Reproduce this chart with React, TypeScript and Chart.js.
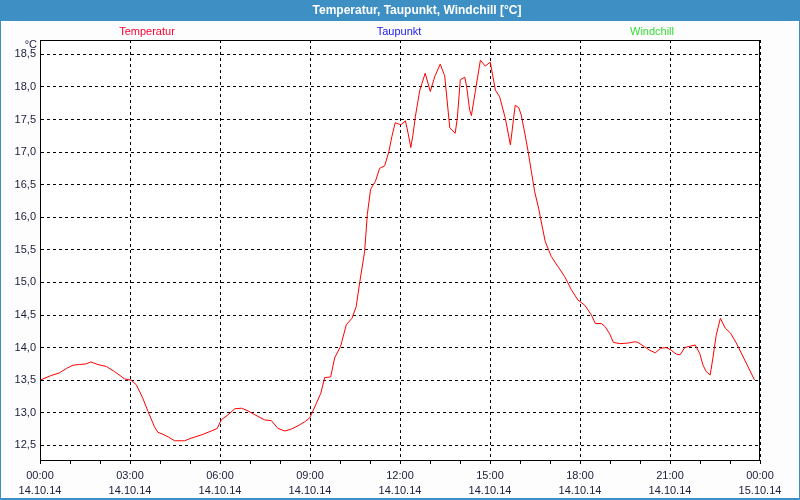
import React, { useEffect, useRef } from "react";
import { Chart, registerables } from "chart.js";

Chart.register(...registerables);

const hours = [
  0, 0.36, 0.64, 0.88, 1.1, 1.32, 1.54, 1.69, 1.93, 2.21, 2.49, 2.82, 3.04, 3.21, 3.43, 3.6, 3.82, 3.93, 4.1, 4.27,
  4.49, 4.82, 5.04, 5.38, 5.71, 5.91, 6.04, 6.27, 6.49, 6.71, 6.93, 7.16, 7.49, 7.71, 7.93, 8.16, 8.38, 8.6, 8.82,
  8.99, 9.16, 9.36, 9.49, 9.69, 9.82, 10.02, 10.21, 10.4, 10.54, 10.66, 10.82, 10.91, 11.02, 11.18, 11.32, 11.49,
  11.63, 11.73, 11.84, 11.96, 12.04, 12.18, 12.27, 12.36, 12.43, 12.51, 12.66, 12.84, 13.01, 13.16, 13.34, 13.49,
  13.66, 13.84, 13.91, 14.01, 14.16, 14.23, 14.32, 14.38, 14.51, 14.68, 14.84, 15.01, 15.18, 15.32, 15.51, 15.68,
  15.84, 15.96, 16.04, 16.16, 16.27, 16.38, 16.49, 16.62, 16.73, 16.84, 17.04, 17.27, 17.49, 17.71, 17.93, 18.16,
  18.38, 18.51, 18.71, 18.84, 18.99, 19.11, 19.33, 19.61, 19.83, 19.93, 20.16, 20.32, 20.51, 20.69, 20.88, 21.04,
  21.21, 21.34, 21.49, 21.66, 21.84, 21.99, 22.1, 22.21, 22.34, 22.43, 22.54, 22.68, 22.84, 23.02, 23.21, 23.49,
  23.82,
];

const temperatur = [
  13.5, 13.57, 13.61, 13.68, 13.73, 13.74, 13.75, 13.78, 13.74, 13.71, 13.63, 13.52, 13.5, 13.43, 13.22, 13.02, 12.78,
  12.7, 12.67, 12.63, 12.57, 12.57, 12.61, 12.66, 12.72, 12.76, 12.89, 12.97, 13.06, 13.07, 13.03, 12.97, 12.89, 12.88,
  12.76, 12.72, 12.75, 12.8, 12.86, 12.92, 13.09, 13.3, 13.54, 13.55, 13.84, 14.02, 14.35, 14.45, 14.63, 15.01, 15.47,
  16.04, 16.43, 16.55, 16.75, 16.79, 17.01, 17.24, 17.45, 17.43, 17.42, 17.48, 17.29, 17.07, 17.26, 17.54, 17.95,
  18.21, 17.93, 18.16, 18.35, 18.17, 17.37, 17.29, 17.52, 18.11, 18.15, 17.98, 17.65, 17.56, 17.93, 18.41, 18.32,
  18.38, 17.95, 17.85, 17.52, 17.11, 17.72, 17.68, 17.57, 17.29, 17.01, 16.7, 16.39, 16.14, 15.88, 15.63, 15.4, 15.24,
  15.09, 14.89, 14.73, 14.65, 14.5, 14.37, 14.37, 14.32, 14.21, 14.08, 14.06, 14.07, 14.09, 14.08, 14.01, 13.96,
  13.92, 13.99, 14.0, 13.96, 13.9, 13.89, 14.0, 14.02, 14.04, 13.91, 13.73, 13.63, 13.58, 13.84, 14.19, 14.45, 14.3,
  14.22, 14.07, 13.81, 13.5,
];

const seriesNames = ["Temperatur", "Taupunkt", "Windchill"];
const seriesColors = ["#ff0033", "#2020f0", "#33dd33"];
const titleText = "Temperatur, Taupunkt, Windchill [°C]";
const unitText = "°C";
const startDate = "14.10.14";
const endDate = "15.10.14";

const FONT = "'Liberation Sans', Arial, sans-serif";

export default function App() {
  const ref = useRef<HTMLCanvasElement | null>(null);

  useEffect(() => {
    document.body.style.margin = "0";
    const canvas = ref.current;
    if (!canvas) return;

    const framePlugin = {
      id: "frame",
      beforeDraw(chart: any) {
        const ctx = chart.ctx;
        ctx.save();
        ctx.fillStyle = "#fcfdfc";
        ctx.fillRect(0, 0, 800, 500);
        const a = chart.chartArea;
        ctx.fillStyle = "#ffffff";
        ctx.fillRect(a.left, a.top, a.right - a.left, a.bottom - a.top);
        ctx.fillStyle = "#3d8fc4";
        ctx.fillRect(0, 0, 800, 21);
        ctx.fillRect(0, 0, 1, 500);
        ctx.fillRect(799, 0, 1, 500);
        ctx.fillRect(0, 498, 800, 2);
        ctx.fillStyle = "#ffffff";
        ctx.font = `bold 12px ${FONT}`;
        ctx.textAlign = "center";
        ctx.textBaseline = "middle";
        ctx.fillText(titleText, 417, 11);
        ctx.restore();
      },
      afterDraw(chart: any) {
        const ctx = chart.ctx;
        const a = chart.chartArea;
        ctx.save();
        ctx.strokeStyle = "#000000";
        ctx.lineWidth = 1;
        ctx.strokeRect(Math.round(a.left) + 0.5, Math.round(a.top) + 0.5, a.right - a.left - 1, a.bottom - a.top);
        ctx.font = `11px ${FONT}`;
        ctx.textAlign = "center";
        ctx.textBaseline = "middle";
        const centers = [147, 399, 652];
        seriesNames.forEach((n, i) => {
          ctx.fillStyle = seriesColors[i];
          ctx.fillText(n, centers[i], 32);
        });
        ctx.fillStyle = "#1c1c3c";
        ctx.textAlign = "right";
        ctx.fillText(unitText, 37, 45);
        ctx.restore();
      },
    };

    const chart = new Chart(canvas, {
      type: "line",
      data: {
        datasets: [
          {
            label: seriesNames[0],
            data: hours.map((h, i) => ({ x: h, y: temperatur[i] })),
            borderColor: "#ff0000",
            borderWidth: 1,
            pointRadius: 0,
            tension: 0,
            fill: false,
          },
        ],
      },
      options: {
        responsive: false,
        animation: false,
        events: [],
        layout: { padding: { left: 0, right: 40, top: 40, bottom: 0 } },
        plugins: { legend: { display: false }, tooltip: { enabled: false }, title: { display: false } },
        scales: {
          x: {
            type: "linear",
            min: 0,
            max: 24,
            afterFit(scale: any) {
              scale.height = 40;
            },
            ticks: {
              stepSize: 1,
              autoSkip: false,
              maxRotation: 0,
              includeBounds: false,
              color: "#1c1c3c",
              font: { family: FONT, size: 11, lineHeight: 1.35 },
              padding: 5,
              callback: (v: any) => {
                const n = Number(v);
                if (n % 3 !== 0) return "";
                const hh = String(n % 24).padStart(2, "0") + ":00";
                return [hh, n >= 24 ? endDate : startDate];
              },
            },
            grid: {
              color: (c: any) => (c.tick && c.tick.value % 3 === 0 ? "#000000" : "rgba(0,0,0,0)"),
              tickColor: "#000000",
              tickLength: 4,
              lineWidth: 1,
              drawTicks: true,
            },
            border: { display: true, color: "#000000", width: 1, dash: [3, 3] },
          },
          y: {
            type: "linear",
            min: 12.275,
            max: 18.72,
            afterFit(scale: any) {
              scale.width = 40;
            },
            ticks: {
              stepSize: 0.5,
              includeBounds: false,
              color: "#1c1c3c",
              font: { family: FONT, size: 11 },
              padding: 4,
              callback: (v: any) => Number(v).toFixed(1).replace(".", ","),
            },
            grid: {
              color: "#000000",
              drawTicks: false,
              lineWidth: 1,
            },
            border: { display: true, color: "#000000", width: 1, dash: [3, 3] },
          },
        },
      },
      plugins: [framePlugin],
    } as any);

    return () => chart.destroy();
  }, []);

  return (
    <div style={{ width: 800, height: 500 }}>
      <canvas ref={ref} width={800} height={500} style={{ display: "block" }} />
    </div>
  );
}
